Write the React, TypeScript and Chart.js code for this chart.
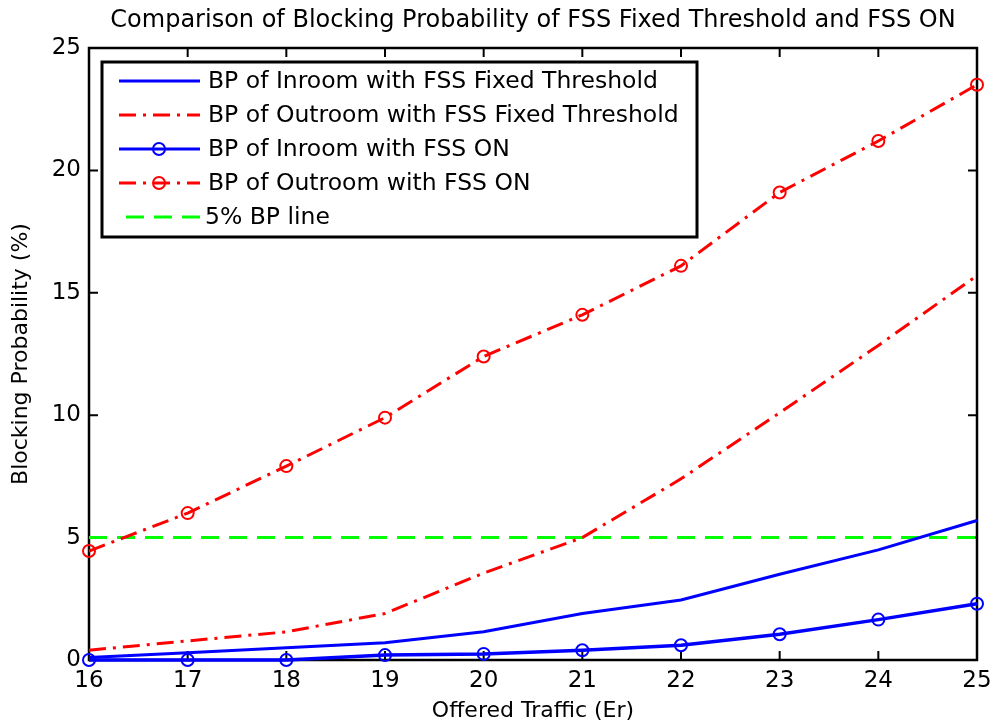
import React, { useEffect, useRef } from "react";
import { Chart, registerables } from "chart.js";

Chart.register(...registerables);

const offeredTraffic = [16, 17, 18, 19, 20, 21, 22, 23, 24, 25];
const inroomFixed = [0.1, 0.3, 0.5, 0.7, 1.15, 1.9, 2.45, 3.5, 4.5, 5.7];
const outroomFixed = [0.4, 0.78, 1.15, 1.9, 3.55, 5.0, 7.4, 10.1, 12.85, 15.7];
const inroomOn = [0.0, 0.0, 0.0, 0.2, 0.25, 0.4, 0.6, 1.05, 1.65, 2.3];
const outroomOn = [4.45, 6.0, 7.92, 9.9, 12.4, 14.1, 16.1, 19.1, 21.2, 23.5];
const bpLine = [5, 5, 5, 5, 5, 5, 5, 5, 5, 5];
const yTicks = [0, 5, 10, 15, 20, 25];

const seriesNames = [
  "BP of Inroom with FSS Fixed Threshold",
  "BP of Outroom with FSS Fixed Threshold",
  "BP of Inroom with FSS ON",
  "BP of Outroom with FSS ON",
  "5% BP line",
];
const titleText = "Comparison of Blocking Probability of FSS Fixed Threshold and FSS ON";
const xTitle = "Offered Traffic (Er)";
const yTitle = "Blocking Probability (%)";

const FONT = "DejaVu Sans";
const BLUE = "#0000ff";
const RED = "#ff0000";
const GREEN = "#00ff00";
const DASHDOT = [17, 7, 3, 7];
const DASH = [18, 10];

const toPts = (ys: number[]) => ys.map((y, i) => ({ x: offeredTraffic[i], y }));

const legendStyles = [
  { color: BLUE, dash: [] as number[], marker: false, width: 3 },
  { color: RED, dash: DASHDOT, marker: false, width: 3 },
  { color: BLUE, dash: [] as number[], marker: true, width: 3 },
  { color: RED, dash: DASHDOT, marker: true, width: 3 },
  { color: GREEN, dash: DASH, marker: false, width: 3 },
];

const framePlugin = {
  id: "matlabFrame",
  beforeDatasetsDraw(chart: any) {
    const { ctx, chartArea: a, scales } = chart;
    ctx.save();
    ctx.strokeStyle = "#000";
    ctx.lineWidth = 2.5;
    ctx.setLineDash([]);
    ctx.strokeRect(a.left, a.top, a.right - a.left, a.bottom - a.top);
    const tl = 9;
    ctx.lineWidth = 2;
    ctx.beginPath();
    offeredTraffic.forEach((v) => {
      const x = scales.x.getPixelForValue(v);
      ctx.moveTo(x, a.bottom);
      ctx.lineTo(x, a.bottom - tl);
      ctx.moveTo(x, a.top);
      ctx.lineTo(x, a.top + tl);
    });
    yTicks.forEach((v) => {
      const y = scales.y.getPixelForValue(v);
      ctx.moveTo(a.left, y);
      ctx.lineTo(a.left + tl, y);
      ctx.moveTo(a.right, y);
      ctx.lineTo(a.right - tl, y);
    });
    ctx.stroke();
    ctx.restore();
  },
  afterDraw(chart: any) {
    const { ctx, chartArea: a } = chart;
    ctx.save();
    // title
    ctx.fillStyle = "#000";
    ctx.font = `24px "${FONT}"`;
    ctx.textAlign = "center";
    ctx.textBaseline = "middle";
    ctx.fillText(titleText, (a.left + a.right) / 2, 21);
    // legend box
    const bx = 102, by = 62, bw = 595, bh = 175;
    ctx.fillStyle = "#fff";
    ctx.fillRect(bx, by, bw, bh);
    ctx.strokeStyle = "#000";
    ctx.lineWidth = 3;
    ctx.strokeRect(bx, by, bw, bh);
    const rowY = [81, 115, 149, 183, 217];
    seriesNames.forEach((name, i) => {
      const st = legendStyles[i];
      const y = rowY[i];
      ctx.strokeStyle = st.color;
      ctx.lineWidth = st.width;
      ctx.setLineDash(st.dash);
      ctx.beginPath();
      ctx.moveTo(i === 4 ? 126 : 119, y);
      ctx.lineTo(200, y);
      ctx.stroke();
      ctx.setLineDash([]);
      if (st.marker) {
        ctx.lineWidth = 2;
        ctx.beginPath();
        ctx.arc(159, y, 6, 0, Math.PI * 2);
        ctx.stroke();
      }
      ctx.fillStyle = "#000";
      ctx.font = `23.5px "${FONT}"`;
      ctx.textAlign = "left";
      ctx.textBaseline = "middle";
      ctx.fillText(name, i === 4 ? 205 : 208, y + 1);
    });
    ctx.restore();
  },
};

export default function App() {
  const ref = useRef<HTMLCanvasElement>(null);
  useEffect(() => {
    if (!ref.current) return;
    const common = { clip: false as any, tension: 0, borderWidth: 3 };
    const chart = new Chart(ref.current, {
      type: "line",
      data: {
        datasets: [
          { ...common, label: seriesNames[0], data: toPts(inroomFixed), borderColor: BLUE, pointRadius: 0 },
          { ...common, label: seriesNames[1], data: toPts(outroomFixed), borderColor: RED, borderDash: DASHDOT, pointRadius: 0 },
          {
            ...common, label: seriesNames[2], data: toPts(inroomOn), borderColor: BLUE, pointRadius: 6,
            pointBorderWidth: 2, pointBorderColor: BLUE, pointBackgroundColor: "rgba(0,0,0,0)", borderWidth: 3.5,
          },
          {
            ...common, label: seriesNames[3], data: toPts(outroomOn), borderColor: RED, borderDash: DASHDOT, pointRadius: 6,
            pointBorderWidth: 2, pointBorderColor: RED, pointBackgroundColor: "rgba(0,0,0,0)",
          },
          { ...common, label: seriesNames[4], data: toPts(bpLine), borderColor: GREEN, borderDash: DASH, pointRadius: 0 },
        ],
      },
      options: {
        animation: false,
        responsive: false,
        layout: { padding: { top: 48, right: 16, left: 0, bottom: 0 } },
        plugins: { legend: { display: false }, title: { display: false }, tooltip: { enabled: false } },
        scales: {
          x: {
            type: "linear",
            min: 16,
            max: 25,
            afterFit: (s: any) => { s.height = 66; s.paddingLeft = 0; s.paddingRight = 0; },
            afterBuildTicks: (s: any) => { s.ticks = offeredTraffic.map((v) => ({ value: v })); },
            grid: { display: false, drawTicks: false },
            border: { display: false },
            ticks: { color: "#000", font: { family: FONT, size: 23 }, padding: 7, maxRotation: 0 },
            title: { display: true, text: xTitle, color: "#000", font: { family: FONT, size: 22 }, padding: { top: 0, bottom: 2 } },
          },
          y: {
            type: "linear",
            min: 0,
            max: 25,
            afterFit: (s: any) => { s.width = 89; s.paddingTop = 0; s.paddingBottom = 0; },
            afterBuildTicks: (s: any) => { s.ticks = yTicks.map((v) => ({ value: v })); },
            grid: { display: false, drawTicks: false },
            border: { display: false },
            ticks: { color: "#000", font: { family: FONT, size: 23 }, padding: 8 },
            title: { display: true, text: yTitle, color: "#000", font: { family: FONT, size: 22 }, padding: { top: 8, bottom: 0 } },
          },
        },
      },
      plugins: [framePlugin],
    });
    return () => chart.destroy();
  }, []);
  return (
    <div style={{ position: "absolute", left: 0, top: 0, width: 993, height: 726, background: "#fff" }}>
      <canvas ref={ref} width={993} height={726} />
    </div>
  );
}
